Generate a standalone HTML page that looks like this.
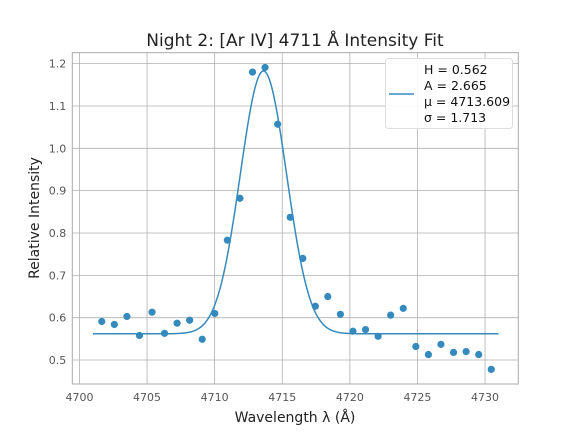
<!DOCTYPE html>
<html><head><meta charset="utf-8"><style>
body{margin:0;background:#fff;font-family:"Liberation Sans","DejaVu Sans",sans-serif}
svg text{font-family:"DejaVu Sans","Liberation Sans",sans-serif}
</style></head><body>
<svg id="chart" width="576" height="432" xmlns="http://www.w3.org/2000/svg"></svg>
<script>
const xTicks=[4700,4705,4710,4715,4720,4725,4730];
const yTicks=[0.5,0.6,0.7,0.8,0.9,1.0,1.1,1.2];
const dataX=[4701.65,4702.58,4703.51,4704.44,4705.37,4706.29,4707.22,4708.15,4709.08,4710.01,4710.94,4711.87,4712.80,4713.73,4714.66,4715.59,4716.52,4717.45,4718.37,4719.30,4720.23,4721.16,4722.09,4723.02,4723.95,4724.88,4725.81,4726.74,4727.67,4728.60,4729.53,4730.46];
const dataY=[0.591,0.584,0.603,0.558,0.613,0.563,0.587,0.594,0.549,0.610,0.783,0.882,1.180,1.191,1.057,0.837,0.740,0.627,0.650,0.608,0.568,0.572,0.556,0.606,0.622,0.532,0.513,0.537,0.518,0.520,0.513,0.478];
const fitH=0.562, fitA=2.665, fitMu=4713.609, fitSigma=1.713;
const fitRange=[4701,4731];

const L=72.3,R=518.3,T=52.7,B=384;
const xMin=4699.47,xMax=4732.46,yMin=0.4434,yMax=1.2258;
const sx=v=>L+(v-xMin)/(xMax-xMin)*(R-L);
const sy=v=>B-(v-yMin)/(yMax-yMin)*(B-T);
const svg=document.getElementById('chart');
const NS='http://www.w3.org/2000/svg';
function mk(tag,attrs,parent){const e=document.createElementNS(NS,tag);for(const k in attrs)e.setAttribute(k,attrs[k]);(parent||svg).appendChild(e);return e;}

const grid=mk('g',{});


xTicks.forEach(t=>{
  const l=mk('line',{x1:sx(t),x2:sx(t),y1:T,y2:B,stroke:'#b0b0b0','stroke-width':0.8},grid);
  
  
  const tx=mk('text',{x:sx(t),y:B+17,'text-anchor':'middle','font-size':11,fill:'#555'});
  tx.textContent=t;
  
  
});
yTicks.forEach(t=>{
  const l=mk('line',{x1:L,x2:R,y1:sy(t),y2:sy(t),stroke:'#b0b0b0','stroke-width':0.8},grid);
  
  
  const tx=mk('text',{x:L-6,y:sy(t)+4,'text-anchor':'end','font-size':11,fill:'#555'});
  tx.textContent=t.toFixed(1);
  
  
});
const frame=mk('rect',{x:L,y:T,width:R-L,height:B-T,fill:'none',stroke:'#aaa','stroke-width':1});



let d='';
for(let i=0;i<=400;i++){
  const x=fitRange[0]+(fitRange[1]-fitRange[0])*i/400;
  const y=fitH+fitA/(fitSigma*Math.sqrt(2*Math.PI))*Math.exp(-((x-fitMu)**2)/(2*fitSigma**2));
  d+=(i?'L':'M')+sx(x).toFixed(2)+' '+sy(y).toFixed(2);
}
const curve=mk('path',{d:d,fill:'none',stroke:'#348abd','stroke-width':1.5});



dataX.forEach((x,i)=>{
  const c=mk('circle',{cx:sx(x),cy:sy(dataY[i]),r:3.6,fill:'#348abd'});
  
  
});

const title=mk('text',{x:295,y:46,'text-anchor':'middle','font-size':17,fill:'#222'});
title.textContent='Night 2: [Ar IV] 4711 Å Intensity Fit';


const xl=mk('text',{x:295,y:422,'text-anchor':'middle','font-size':14,fill:'#222'});
xl.textContent='Wavelength λ (Å)';


const yl=mk('text',{x:0,y:0,'text-anchor':'middle','font-size':14,fill:'#222',transform:'translate(39,218) rotate(-90)'});
yl.textContent='Relative Intensity';



const lg=mk('g',{});


mk('rect',{x:385.5,y:58.5,width:127,height:70,rx:3,fill:'#fff','fill-opacity':0.9,stroke:'#ddd'},lg);
const ll=mk('line',{x1:389,x2:414,y1:94,y2:94,stroke:'#348abd','stroke-width':1.5},lg);


['H = 0.562','A = 2.665','μ = 4713.609','σ = 1.713'].forEach((s,i)=>{
  const t=mk('text',{x:424,y:74+i*16,'font-size':12.5,fill:'#111'},lg);
  t.textContent=s;
  
  
});
</script>
</body></html>
